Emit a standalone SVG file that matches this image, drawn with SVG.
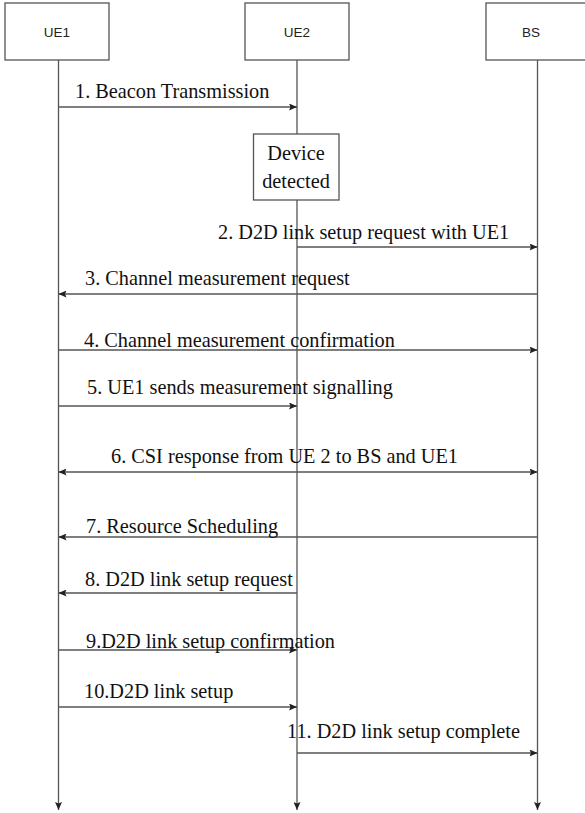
<svg xmlns="http://www.w3.org/2000/svg" width="585" height="813" viewBox="0 0 585 813">
<defs>
<style>
.box{fill:#fff;stroke:#555;stroke-width:1.3}
.hdr{font-family:"Liberation Sans",Arial,sans-serif;font-size:13.5px;fill:#222;text-anchor:middle}
.lbl{font-family:"Liberation Serif","Times New Roman",serif;font-size:20.3px;fill:#111}
.ln{stroke:#555;stroke-width:1.3;fill:none}
.msg{marker-end:url(#ah)}
</style>
<marker id="ah" viewBox="0 0 8 7" refX="8" refY="3.5" markerWidth="8" markerHeight="7" markerUnits="userSpaceOnUse" orient="auto">
<path d="M0,0 L8,3.5 L0,7 L1.5,3.5 z" fill="#222"/>
</marker>
<marker id="ahs" viewBox="0 0 8 7" refX="8" refY="3.5" markerWidth="8" markerHeight="7" markerUnits="userSpaceOnUse" orient="auto-start-reverse">
<path d="M0,0 L8,3.5 L0,7 L1.5,3.5 z" fill="#222"/>
</marker>
</defs>
<rect width="585" height="813" fill="#fff"/>
<g id="connectors">
<line class="ln msg" x1="58.5" y1="60" x2="58.5" y2="810"/>
<line class="ln msg" x1="297" y1="60" x2="297" y2="810"/>
<line class="ln msg" x1="537.5" y1="60" x2="537.5" y2="810"/>
<line class="ln msg" x1="58.5" y1="107" x2="297" y2="107"/>
<line class="ln msg" x1="297" y1="247" x2="537.5" y2="247"/>
<line class="ln msg" x1="537.5" y1="294" x2="58.5" y2="294"/>
<line class="ln msg" x1="58.5" y1="350" x2="537.5" y2="350"/>
<line class="ln msg" x1="58.5" y1="406" x2="297" y2="406"/>
<line class="ln" marker-start="url(#ahs)" marker-end="url(#ah)" x1="58.5" y1="472" x2="537.5" y2="472"/>
<line class="ln msg" x1="537.5" y1="537" x2="58.5" y2="537"/>
<line class="ln msg" x1="297" y1="593" x2="58.5" y2="593"/>
<line class="ln msg" x1="58.5" y1="650" x2="297" y2="650"/>
<line class="ln msg" x1="58.5" y1="707" x2="297" y2="707"/>
<line class="ln msg" x1="297" y1="753" x2="537.5" y2="753"/>
</g>
<g id="labels">
<text class="lbl" x="75" y="98">1. Beacon Transmission</text>
<text class="lbl" x="218" y="239">2. D2D link setup request with UE1</text>
<text class="lbl" x="85" y="285">3. Channel measurement request</text>
<text class="lbl" x="84" y="347">4. Channel measurement confirmation</text>
<text class="lbl" x="87" y="394">5. UE1 sends measurement signalling</text>
<text class="lbl" x="111" y="463">6. CSI response from UE 2 to BS and UE1</text>
<text class="lbl" x="86" y="533">7. Resource Scheduling</text>
<text class="lbl" x="85" y="586">8. D2D link setup request</text>
<text class="lbl" x="86" y="648">9.D2D link setup confirmation</text>
<text class="lbl" x="84" y="698">10.D2D link setup</text>
<text class="lbl" x="287" y="738">11. D2D link setup complete</text>
</g>
<g id="UE1">
<rect class="box" x="5" y="3" width="104" height="57"/>
<text class="hdr" x="57" y="37">UE1</text>
</g>
<g id="UE2">
<rect class="box" x="245" y="3" width="104" height="57"/>
<text class="hdr" x="297" y="37">UE2</text>
</g>
<g id="BS">
<rect class="box" x="486" y="3" width="110" height="57"/>
<text class="hdr" x="531" y="37">BS</text>
</g>
<g id="device-detected">
<rect class="box" x="253.5" y="134" width="85.5" height="66"/>
<text class="lbl" x="296" y="160" text-anchor="middle">Device</text>
<text class="lbl" x="296" y="188" text-anchor="middle">detected</text>
</g>
</svg>
